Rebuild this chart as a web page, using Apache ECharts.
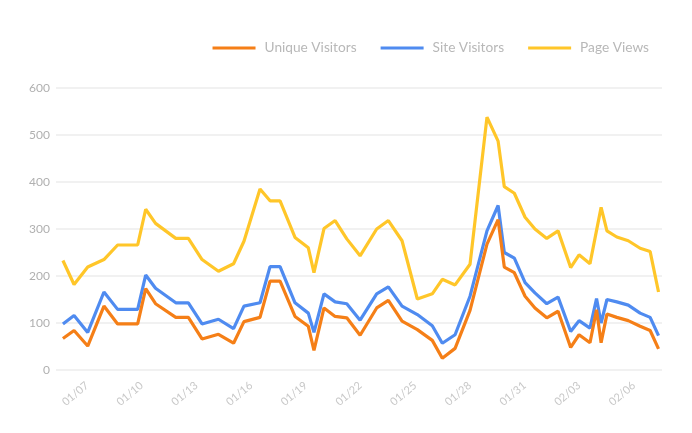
<!DOCTYPE html>
<html>
<head>
<meta charset="utf-8">
<script src="https://cdn.jsdelivr.net/npm/echarts@6/dist/echarts.min.js"></script>
<style>
html,body{margin:0;padding:0;background:#fff;}
#chart{width:692px;height:433px;}
</style>
</head>
<body>
<div id="chart"></div>
<script>
// x positions as day numbers (January day; Feb 1 = 32)
const days = [5.68, 6.29, 7.04, 7.93, 8.68, 9.78, 10.22, 10.76, 11.87, 12.56, 13.31, 14.21, 15.04, 15.61, 16.49, 17.04, 17.59, 18.41, 19.14, 19.45, 20.00, 20.61, 21.25, 21.98, 22.89, 23.53, 24.28, 25.12, 25.94, 26.49, 27.19, 28.01, 28.94, 29.55, 29.89, 30.44, 31.03, 31.57, 32.22, 32.84, 33.53, 33.99, 34.59, 34.95, 35.20, 35.52, 36.06, 36.69, 37.34, 37.89, 38.35];
const uniqueVisitors = [67,84,51,136,98,98,173,141,112,112,66,76,57,103,112,189,189,114,93,42,132,114,111,74,132,148,104,86,63,25,46,127,268,320,219,207,157,132,111,125,48,75,58,128,58,119,112,105,93,84,45];
const siteVisitors = [98,116,80,166,129,129,202,174,143,143,98,108,88,136,143,220,220,143,121,80,162,145,141,106,162,177,136,118,94,57,75,157,296,350,250,238,186,164,141,155,82,105,89,152,100,150,145,138,121,112,73];
const pageViews = [233,182,219,235,266,266,342,312,280,280,235,210,226,274,385,360,360,282,260,207,301,318,279,243,300,318,275,151,162,193,181,225,538,487,390,376,325,300,280,296,218,245,226,297,346,296,283,275,259,252,166];
const xTicks = [7, 10, 13, 16, 19, 22, 25, 28, 31, 34, 37];
const seriesNames = ['Unique Visitors', 'Site Visitors', 'Page Views'];
const colors = ['#F57F17', '#4F8BF0', '#FFC629'];

function fmtDay(d) {
  const pad = n => (n < 10 ? '0' : '') + n;
  d = Math.round(d);
  return d <= 31 ? '01/' + pad(d) : '02/' + pad(d - 31);
}
function pairs(vals) { return vals.map((v, i) => [days[i], v]); }

const chart = echarts.init(document.getElementById('chart'));
const font = 'Lato, "Open Sans", sans-serif';
chart.setOption({
  backgroundColor: '#ffffff',
  animation: false,
  color: colors,
  legend: {
    data: seriesNames,
    right: 38,
    top: 36,
    icon: 'rect',
    itemWidth: 43,
    itemHeight: 3,
    itemGap: 24,
    textStyle: { color: '#b8b8b8', fontSize: 13.7, fontFamily: font, padding: [0, 0, 0, 4] }
  },
  grid: { left: 56, right: 30, top: 88, bottom: 63, containLabel: false },
  xAxis: {
    type: 'value',
    min: 5.30,
    max: 38.54,
    axisLine: { show: false },
    axisTick: { show: false },
    splitLine: { show: false },
    axisLabel: {
      customValues: xTicks,
      rotate: 40,
      margin: 14,
      color: '#c8c8c8',
      fontSize: 11,
      fontFamily: font,
      formatter: v => fmtDay(v)
    }
  },
  yAxis: {
    type: 'value',
    min: 0,
    max: 600,
    interval: 100,
    axisLine: { show: false },
    axisTick: { show: false },
    axisLabel: { color: '#b0b0b0', fontSize: 12, fontFamily: font, margin: 6 },
    splitLine: { lineStyle: { color: '#ececec', width: 1.5 } }
  },
  series: [
    { name: seriesNames[0], type: 'line', data: pairs(uniqueVisitors), showSymbol: false, symbol: 'none', lineStyle: { width: 3.2, color: colors[0] }, z: 4 },
    { name: seriesNames[1], type: 'line', data: pairs(siteVisitors), showSymbol: false, symbol: 'none', lineStyle: { width: 3.2, color: colors[1] }, z: 3 },
    { name: seriesNames[2], type: 'line', data: pairs(pageViews), showSymbol: false, symbol: 'none', lineStyle: { width: 3.2, color: colors[2] }, z: 2 }
  ]
});
</script>
</body>
</html>
